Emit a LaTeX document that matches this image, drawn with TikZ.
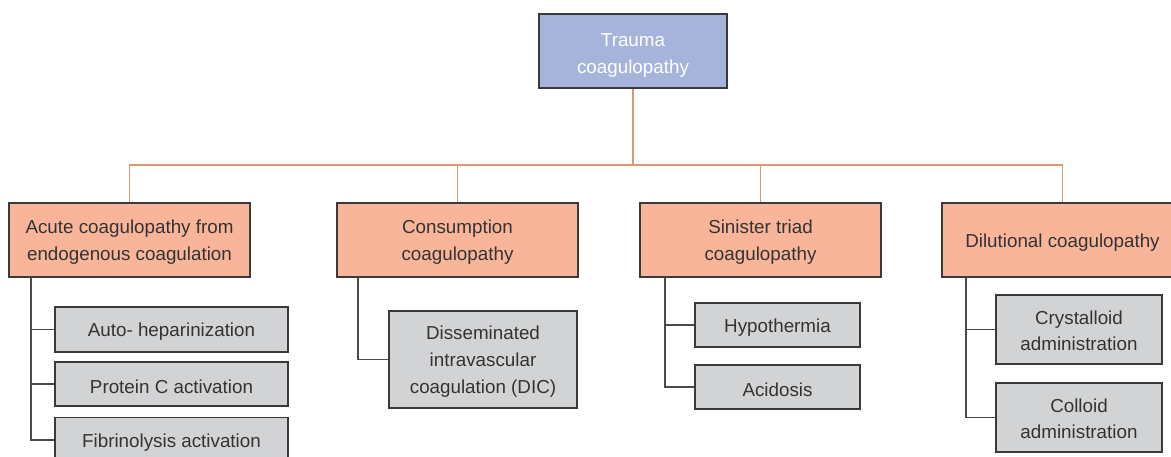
\documentclass[tikz,border=0pt]{standalone}
\usepackage{fontspec}
\setmainfont{Liberation Sans}
\definecolor{topfill}{HTML}{A6B4DC}
\definecolor{midfill}{HTML}{F9B59A}
\definecolor{leaffill}{HTML}{D2D3D5}
\definecolor{boxline}{HTML}{3A3A3A}
\definecolor{txt}{HTML}{333333}
\definecolor{treeline}{HTML}{D89A74}
\definecolor{subline}{HTML}{4A4A4A}
\newcommand\firstlift[1]{\rule{0pt}{#1}}
\begin{document}
\begin{tikzpicture}[x=1pt,y=-1pt,
  base/.style={draw=boxline,line width=1.3pt,align=center,inner sep=0pt,
    font=\fontsize{18.8}{26.8}\selectfont,text=txt},
  single/.style={execute at begin node={\rule{0pt}{18.5pt}}},
  topbox/.style={base,fill=topfill,text=white,minimum width=188pt,minimum height=74pt},
  midbox/.style={base,fill=midfill,minimum width=241pt,minimum height=74pt},
  leafbox/.style={base,fill=leaffill},
  tree/.style={draw=treeline,line width=1.1pt},
  sub/.style={draw=subline,line width=1.5pt}]
\useasboundingbox (0,0) rectangle (1171,457);
\begin{scope}
\clip (0,0) rectangle (1171,457);
\node[topbox] (top) at (633,51) {\firstlift{22.5pt}Trauma\\coagulopathy};
\node[midbox] (b1) at (129.5,240) {\firstlift{18.5pt}Acute coagulopathy from\\endogenous coagulation};
\node[midbox] (b2) at (457.5,240) {\firstlift{18.5pt}Consumption\\coagulopathy};
\node[midbox] (b3) at (760.5,240) {\firstlift{18.5pt}Sinister triad\\coagulopathy};
\node[midbox,single] (b4) at (1062.5,240) {Dilutional coagulopathy};

\coordinate (hub) at (633,165);
\draw[tree] (top.south) -- (hub);
\draw[tree] (b1.north) |- (hub) -| (b4.north);
\draw[tree] (b2.north) -- (b2.north |- hub);
\draw[tree] (b3.north) -- (b3.north |- hub);

% branch 1
\node[leafbox,single,minimum width=233pt,minimum height=45pt] (c11) at (171.5,329.5) {Auto- heparinization};
\node[leafbox,single,minimum width=233pt,minimum height=44pt] (c12) at (171.5,384) {Protein C activation};
\node[leafbox,single,minimum width=233pt,minimum height=45pt] (c13) at (171.5,440) {Fibrinolysis activation};
\coordinate (t1) at (31,277);
\draw[sub] (t1) |- (c13.west);
\draw[sub] (c11.west) -- (c11.west -| t1);
\draw[sub] (c12.west) -- (c12.west -| t1);

% branch 2
\node[leafbox,minimum width=188pt,minimum height=97pt] (c21) at (483,359.5) {\firstlift{18pt}Disseminated\\intravascular\\coagulation (DIC)};
\coordinate (t2) at (358,277);
\draw[sub] (t2) |- (c21.west);

% branch 3
\node[leafbox,single,minimum width=165pt,minimum height=44pt] (c31) at (777.5,325) {Hypothermia};
\node[leafbox,single,minimum width=165pt,minimum height=44pt] (c32) at (777.5,387) {Acidosis};
\coordinate (t3) at (665,277);
\draw[sub] (t3) |- (c32.west);
\draw[sub] (c31.west) -- (c31.west -| t3);

% branch 4
\node[leafbox,minimum width=166pt,minimum height=69pt] (c41) at (1079,329.5) {\firstlift{16pt}Crystalloid\\administration};
\node[leafbox,minimum width=166pt,minimum height=69pt] (c42) at (1079,417.5) {\firstlift{16pt}Colloid\\administration};
\coordinate (t4) at (966,277);
\draw[sub] (t4) |- (c42.west);
\draw[sub] (c41.west) -- (c41.west -| t4);
\end{scope}
\end{tikzpicture}
\end{document}
